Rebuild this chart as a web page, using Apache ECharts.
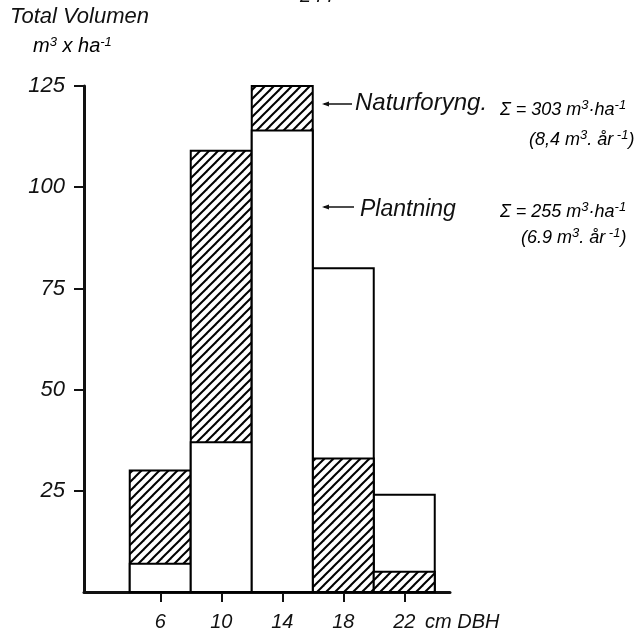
<!DOCTYPE html>
<html>
<head>
<meta charset="utf-8">
<script src="https://cdn.jsdelivr.net/npm/echarts@6/dist/echarts.min.js"></script>
<style>html,body{margin:0;padding:0;background:#fff}#c{width:637px;height:640px}</style>
</head>
<body>
<div id="c"></div>
<script>
// Data
const dbhClasses = [6, 10, 14, 18, 22];          // class centres, cm DBH
const binWidth = 4;                               // class width, cm
const naturforyng = [30, 109, 125, 33, 5];        // m3/ha (hatched)
const plantning = [7, 37, 114, 80, 24];           // m3/ha (white)
const yTicks = [25, 50, 75, 100, 125];
const xTicks = [6, 10, 14, 18, 22];

const FONT = '"Liberation Sans", Arial, sans-serif';

// hatch pattern "/"
const pc = document.createElement('canvas');
const S = 9;
pc.width = S; pc.height = S;
const ctx = pc.getContext('2d');
ctx.fillStyle = '#fff'; ctx.fillRect(0, 0, S, S);
ctx.strokeStyle = '#000'; ctx.lineWidth = 2;
for (const k of [-S, 0, S]) { ctx.beginPath(); ctx.moveTo(k - 1, S + 1); ctx.lineTo(k + S + 1, -1); ctx.stroke(); }

function makeRender(fill, own, other) {
  return function (params, api) {
    const c = api.value(0), v = api.value(1);
    const p0 = api.coord([c - binWidth / 2, v]);
    const p1 = api.coord([c + binWidth / 2, 0]);
    const i = params.dataIndex;
    return {
      type: 'rect',
      shape: { x: p0[0], y: p0[1], width: p1[0] - p0[0], height: p1[1] - p0[1] },
      style: { fill: fill, stroke: '#000', lineWidth: 2 },
      z2: own[i] >= other[i] ? 1 : 10
    };
  };
}

const chart = echarts.init(document.getElementById('c'), null, { renderer: 'canvas' });

const txt = (x, y, text, size) => ({
  type: 'text', x: x, y: y,
  style: { text: text, font: 'italic ' + size + 'px ' + FONT, fill: '#111', textAlign: 'left', textVerticalAlign: 'middle' }
});
const richStyle = (n, s) => ({
  a: { fontSize: n, fontStyle: 'italic', fontFamily: FONT, color: '#111', lineHeight: 20, verticalAlign: 'bottom' },
  b: { fontSize: s, fontStyle: 'italic', fontFamily: FONT, color: '#111', lineHeight: 20, verticalAlign: 'top' }
});
const rtxt = (x, y, text, n, s) => ({
  type: 'text', x: x, y: y,
  style: { text: text, rich: richStyle(n, s), textAlign: 'left', textVerticalAlign: 'middle' }
});
function arrow(x0, x1, y) {
  return [
    { type: 'line', shape: { x1: x0 + 2, y1: y, x2: x1, y2: y }, style: { stroke: '#111', lineWidth: 1.5 } },
    { type: 'polygon', shape: { points: [[x0, y], [x0 + 7, y - 2.5], [x0 + 7, y + 2.5]] }, style: { fill: '#111' } }
  ];
}

chart.setOption({
  animation: false,
  backgroundColor: '#fff',
  grid: { left: 84, right: 187, top: 86, bottom: 48, outerBoundsMode: 'none' },
  xAxis: {
    type: 'value', min: 1, max: 25,
    axisLine: { lineStyle: { color: '#111', width: 3 } },
    axisTick: { customValues: xTicks, length: 10, lineStyle: { color: '#111', width: 2 } },
    axisLabel: { customValues: xTicks, margin: 20, color: '#111', fontSize: 20, fontStyle: 'italic', fontFamily: FONT },
    splitLine: { show: false }
  },
  yAxis: {
    type: 'value', min: 0, max: 125, interval: 25,
    axisLine: { show: true, lineStyle: { color: '#111', width: 3 } },
    axisTick: { show: true, customValues: yTicks, length: 10, lineStyle: { color: '#111', width: 2 } },
    axisLabel: { customValues: yTicks, margin: 19, color: '#111', fontSize: 22, fontStyle: 'italic', fontFamily: FONT },
    splitLine: { show: false }
  },
  series: [
    {
      name: 'Naturforyng.', type: 'custom',
      renderItem: makeRender({ image: pc, repeat: 'repeat' }, naturforyng, plantning),
      encode: { x: 0, y: 1 },
      data: dbhClasses.map((d, i) => [d, naturforyng[i]])
    },
    {
      name: 'Plantning', type: 'custom',
      renderItem: makeRender('#fff', plantning, naturforyng),
      encode: { x: 0, y: 1 },
      data: dbhClasses.map((d, i) => [d, plantning[i]])
    }
  ],
  graphic: [
    txt(300, -4, '244', 20),
    txt(10, 17, 'Total Volumen', 22),
    rtxt(33, 46, '{a|m}{b|3}{a| x ha}{b|-1}', 20, 13),
    txt(425, 622, 'cm DBH', 20),
    ...arrow(322, 352, 104),
    txt(355, 103, 'Naturforyng.', 24),
    rtxt(500, 109, '{a|Σ = 303 m}{b|3}{a|·ha}{b|-1}', 18, 13),
    rtxt(529, 139, '{a|(8,4 m}{b|3}{a|. år}{b| -1}{a|)}', 18, 13),
    ...arrow(322, 354, 207),
    txt(360, 210, 'Plantning', 23),
    rtxt(500, 211, '{a|Σ = 255 m}{b|3}{a|·ha}{b|-1}', 18, 13),
    rtxt(521, 237, '{a|(6.9 m}{b|3}{a|. år}{b| -1}{a|)}', 18, 13)
  ]
});
</script>
</body>
</html>
